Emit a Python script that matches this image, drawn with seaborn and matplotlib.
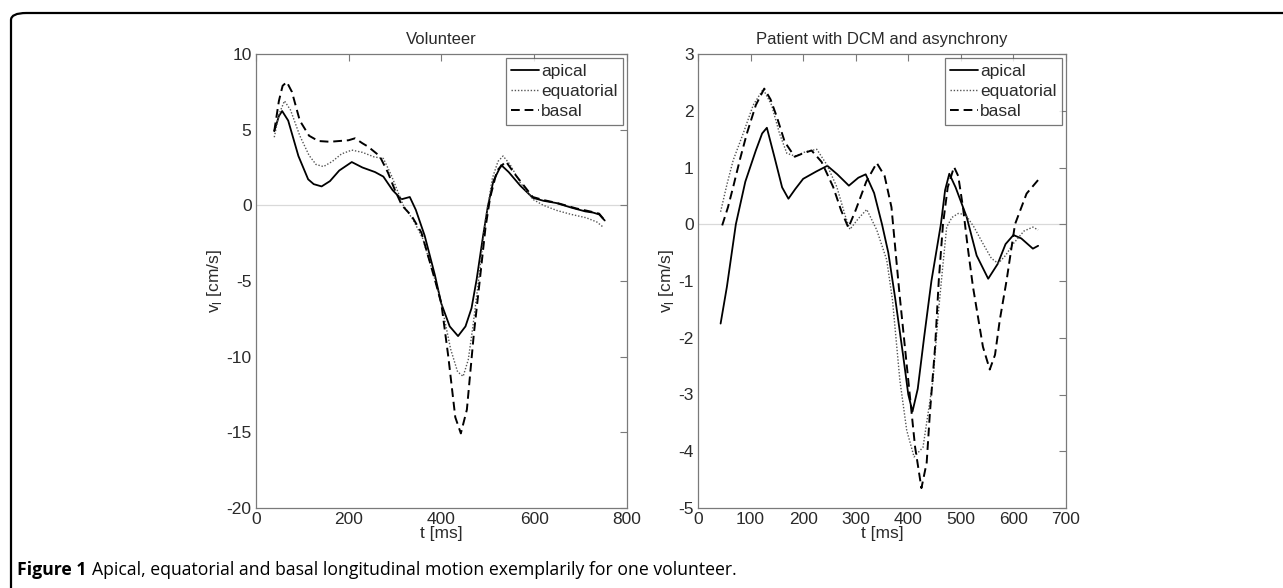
import numpy as np
import pandas as pd
import matplotlib
matplotlib.use("Agg")
import matplotlib.pyplot as plt
import seaborn as sns
from matplotlib.patches import FancyBboxPatch

# ---------------- data ----------------
vol_apical_t = [40, 50, 57, 70, 92, 113, 125, 142, 160, 180, 207, 230, 257, 275, 295, 314, 332, 345, 364, 386, 400, 418, 436, 452, 465, 476, 490, 500, 512, 529, 545, 570, 597, 620, 648, 680, 710, 727, 740, 752]
vol_apical_v = [4.9, 5.9, 6.23, 5.6, 3.26, 1.72, 1.4, 1.25, 1.6, 2.3, 2.86, 2.5, 2.2, 1.9, 1.0, 0.4, 0.55, -0.3, -2.0, -4.6, -6.5, -8.0, -8.64, -8.0, -6.8, -4.9, -2.0, -0.1, 1.6, 2.66, 2.2, 1.3, 0.5, 0.3, 0.15, -0.15, -0.4, -0.48, -0.6, -1.0]

vol_equat_t = [40, 50, 62, 75, 95, 115, 130, 146, 165, 185, 207, 230, 255, 275, 292, 307, 318, 340, 360, 386, 400, 420, 435, 447, 458, 468, 480, 495, 510, 522, 533, 548, 570, 597, 620, 650, 680, 712, 735, 750]
vol_equat_v = [4.5, 6.0, 6.9, 6.3, 4.6, 3.3, 2.7, 2.56, 2.9, 3.4, 3.65, 3.5, 3.2, 3.1, 2.0, 0.84, 0.0, -1.0, -2.2, -4.9, -6.5, -9.5, -11.0, -11.3, -10.2, -8.0, -5.0, -1.0, 1.8, 2.9, 3.26, 2.7, 1.5, 0.4, 0.0, -0.35, -0.6, -0.82, -1.1, -1.47]

vol_basal_t = [40, 50, 58, 67, 78, 95, 115, 135, 160, 180, 200, 214, 230, 242, 267, 285, 300, 315, 336, 357, 386, 400, 415, 430, 442, 455, 470, 483, 495, 505, 520, 539, 560, 597, 620, 650, 690, 720, 740, 752]
vol_basal_v = [4.9, 6.9, 7.9, 8.15, 7.5, 5.6, 4.6, 4.25, 4.2, 4.25, 4.3, 4.43, 4.1, 3.88, 3.26, 2.16, 1.0, 0.0, -0.7, -1.8, -4.9, -6.5, -10.0, -14.0, -15.07, -13.5, -8.5, -4.9, -1.5, 0.5, 2.3, 2.9, 2.0, 0.55, 0.35, 0.15, -0.2, -0.4, -0.55, -1.0]

pat_apical_t = [43, 55, 72, 90, 110, 122, 131, 145, 160, 172, 185, 200, 225, 246, 265, 287, 305, 319, 335, 350, 362, 375, 390, 400, 408, 418, 430, 444, 462, 470, 478, 490, 511, 530, 552, 570, 585, 600, 615, 637, 647]
pat_apical_v = [-1.75, -1.1, 0.0, 0.75, 1.3, 1.6, 1.70, 1.2, 0.65, 0.45, 0.62, 0.8, 0.93, 1.03, 0.88, 0.68, 0.82, 0.88, 0.55, 0.0, -0.5, -1.3, -2.3, -3.0, -3.3, -2.9, -2.0, -1.0, 0.0, 0.6, 0.89, 0.65, 0.13, -0.55, -0.96, -0.7, -0.35, -0.19, -0.25, -0.43, -0.38]

pat_equat_t = [43, 55, 67, 86, 105, 124, 140, 155, 169, 185, 205, 226, 245, 264, 280, 289, 305, 321, 340, 359, 370, 384, 397, 411, 428, 447, 457, 465, 473, 483, 495, 509, 525, 542, 558, 571, 585, 600, 620, 637, 647]
pat_equat_v = [0.22, 0.7, 1.13, 1.6, 2.1, 2.38, 2.1, 1.6, 1.25, 1.2, 1.28, 1.32, 1.05, 0.66, 0.15, -0.09, 0.1, 0.26, -0.1, -0.63, -1.34, -2.75, -3.63, -4.10, -3.93, -2.75, -1.58, -0.8, -0.05, 0.12, 0.19, 0.17, -0.05, -0.34, -0.6, -0.69, -0.55, -0.34, -0.12, -0.05, -0.1]

pat_basal_t = [46, 57, 67, 80, 93, 110, 126, 138, 150, 165, 184, 200, 216, 235, 257, 272, 286, 300, 320, 340, 355, 368, 383, 400, 413, 425, 435, 441, 451, 458, 466, 475, 487, 495, 504, 513, 523, 542, 555, 565, 574, 587, 603, 625, 647]
pat_basal_v = [-0.02, 0.3, 0.66, 1.15, 1.6, 2.1, 2.39, 2.2, 1.89, 1.45, 1.19, 1.25, 1.3, 1.1, 0.66, 0.25, -0.06, 0.25, 0.75, 1.08, 0.85, 0.3, -1.2, -2.75, -3.93, -4.65, -4.2, -3.34, -2.16, -0.99, 0.0, 0.65, 1.01, 0.85, 0.3, -0.4, -1.1, -2.16, -2.56, -2.3, -1.69, -0.99, 0.0, 0.54, 0.78]

series_names = ["apical", "equatorial", "basal"]
panel_titles = ["Volunteer", "Patient with DCM and asynchrony"]
x_label = "t [ms]"
y_label = r"v$_\mathregular{l}$ [cm/s]"
caption_bold = "Figure 1"
caption_text = "Apical, equatorial and basal longitudinal motion exemplarily for one volunteer."

left_xticks = [0, 200, 400, 600, 800]
left_yticks = [-20, -15, -10, -5, 0, 5, 10]
right_xticks = [0, 100, 200, 300, 400, 500, 600, 700]
right_yticks = [-5, -4, -3, -2, -1, 0, 1, 2, 3]

# ---------------- style ----------------
sns.set_theme(style="white")
plt.rcParams["font.family"] = ["Liberation Sans", "DejaVu Sans"]
plt.rcParams["mathtext.fontset"] = "custom"
plt.rcParams["mathtext.rm"] = "Liberation Sans"
plt.rcParams["axes.unicode_minus"] = False

W, H = 1283, 588
fig = plt.figure(figsize=(W / 100, H / 100), dpi=100)
fig.patch.set_facecolor("white")

def frac_box(x0, y0, x1, y1):
    return [x0 / W, 1 - y1 / H, (x1 - x0) / W, (y1 - y0) / H]

ax1 = fig.add_axes(frac_box(255.7, 54, 627, 508))
ax2 = fig.add_axes(frac_box(698, 54, 1066, 508))

line_styles = {
    "apical": dict(color="black", linestyle="-", linewidth=1.3),
    "equatorial": dict(color="#555555", linestyle=(0, (1, 1.3)), linewidth=1.0),
    "basal": dict(color="black", linestyle=(0, (4.5, 2.5)), linewidth=1.4),
}

def make_df(ts, vs):
    rows = []
    for name, t, v in zip(series_names, ts, vs):
        rows.append(pd.DataFrame({"t": t, "v": v, "series": name}))
    return pd.concat(rows, ignore_index=True)

df_vol = make_df([vol_apical_t, vol_equat_t, vol_basal_t], [vol_apical_v, vol_equat_v, vol_basal_v])
df_pat = make_df([pat_apical_t, pat_equat_t, pat_basal_t], [pat_apical_v, pat_equat_v, pat_basal_v])

spine_col = "#7a7a7a"
text_col = "#2a2a2a"

def draw_panel(ax, df, title, xlim, ylim, xticks, yticks):
    ax.axhline(0, color="#d9d9d9", linewidth=0.9, zorder=0)
    for name in series_names:
        sub = df[df["series"] == name]
        sns.lineplot(data=sub, x="t", y="v", ax=ax, label=name, sort=False,
                     estimator=None, **line_styles[name])
    ax.set_xlim(*xlim)
    ax.set_ylim(*ylim)
    ax.set_xticks(xticks)
    ax.set_yticks(yticks)
    ax.tick_params(direction="in", length=5, width=0.8, color=spine_col,
                   top=True, right=True, labelsize=12.5, labelcolor=text_col, pad=3)
    for s in ax.spines.values():
        s.set_visible(True)
        s.set_color(spine_col)
        s.set_linewidth(0.9)
    ax.set_title(title, fontsize=12, color=text_col, pad=7)
    ax.set_xlabel(x_label, fontsize=12.5, color=text_col, labelpad=-1)
    ax.set_ylabel(y_label, fontsize=12.5, color=text_col, labelpad=2)
    leg = ax.legend(loc="upper right", fontsize=12.5, frameon=True, fancybox=False,
                    handlelength=1.6, handletextpad=0.1, borderpad=0.3,
                    labelspacing=0.3, borderaxespad=0.25, edgecolor="#555555")
    leg.get_frame().set_linewidth(0.9)
    for txt in leg.get_texts():
        txt.set_color(text_col)
    ax.set_facecolor("white")

draw_panel(ax1, df_vol, panel_titles[0], (0, 800), (-20, 10), left_xticks, left_yticks)
draw_panel(ax2, df_pat, panel_titles[1], (0, 700), (-5, 3), right_xticks, right_yticks)

# outer frame (rounded top-left corner)
frame = FancyBboxPatch((11 / W, -0.2), 1.5, (1 - 13 / H) + 0.2,
                       boxstyle="round,pad=0,rounding_size=0.012",
                       transform=fig.transFigure, fill=False,
                       edgecolor="black", linewidth=1.6, clip_on=False)
fig.patches.append(frame)

# caption
cap_family = ["Open Sans", "DejaVu Sans"]
t_bold = fig.text(17 / W, 1 - 575 / H, caption_bold, fontsize=12.7, fontweight="bold",
                  family=cap_family, color="black", va="baseline")
fig.canvas.draw()
bb = t_bold.get_window_extent(renderer=fig.canvas.get_renderer())
fig.text((bb.x1 + 5) / W, 1 - 575 / H, caption_text, fontsize=12.7,
         family=cap_family, color="black", va="baseline")

fig.savefig("out.png", dpi=100, facecolor="white")
